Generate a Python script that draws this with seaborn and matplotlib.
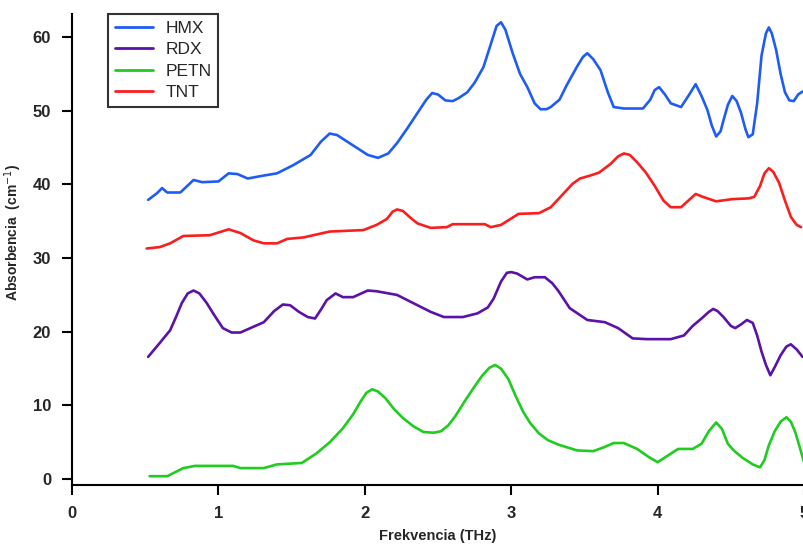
import numpy as np
import pandas as pd
import matplotlib
matplotlib.use("Agg")
import matplotlib.pyplot as plt
import seaborn as sns

series_names = ["HMX", "RDX", "PETN", "TNT"]
colors = ["#1f5cf5", "#5a12a8", "#1fcc1f", "#fb1e1e"]

hmx_x = [0.52, 0.58, 0.615, 0.65, 0.74, 0.83, 0.89, 1.00, 1.07, 1.13, 1.20, 1.31, 1.40, 1.51, 1.63, 1.70,
         1.76, 1.81, 1.88, 1.95, 2.02, 2.09, 2.16, 2.22, 2.29, 2.36, 2.42, 2.46, 2.50, 2.55, 2.60, 2.64,
         2.70, 2.75, 2.81, 2.86, 2.90, 2.93, 2.96, 3.01, 3.06, 3.11, 3.16, 3.20, 3.24, 3.27, 3.33, 3.38,
         3.45, 3.49, 3.52, 3.56, 3.61, 3.66, 3.70, 3.77, 3.90, 3.95, 3.98, 4.01, 4.05, 4.09, 4.16, 4.21,
         4.26, 4.30, 4.34, 4.37, 4.40, 4.43, 4.45, 4.48, 4.51, 4.54, 4.57, 4.60, 4.62, 4.65, 4.68, 4.71,
         4.74, 4.76, 4.78, 4.81, 4.84, 4.87, 4.90, 4.93, 4.96, 4.99]
hmx_y = [37.9, 38.8, 39.5, 38.9, 38.9, 40.6, 40.3, 40.4, 41.5, 41.4, 40.8, 41.2, 41.5, 42.6, 44.0, 45.8,
         46.9, 46.7, 45.8, 44.9, 44.0, 43.6, 44.2, 45.6, 47.6, 49.7, 51.5, 52.4, 52.2, 51.4, 51.3, 51.7,
         52.5, 53.8, 55.9, 59.0, 61.5, 62.0, 61.0, 57.8, 55.0, 53.2, 51.0, 50.2, 50.2, 50.5, 51.5, 53.5,
         56.0, 57.3, 57.8, 57.0, 55.5, 52.5, 50.5, 50.3, 50.3, 51.5, 52.8, 53.2, 52.2, 51.0, 50.5, 52.0,
         53.6, 52.0, 50.1, 48.0, 46.5, 47.2, 48.7, 50.8, 52.0, 51.3, 49.7, 47.5, 46.4, 46.8, 51.0, 57.5,
         60.5, 61.3, 60.5, 58.2, 55.0, 52.5, 51.4, 51.3, 52.2, 52.6]

tnt_x = [0.51, 0.60, 0.67, 0.76, 0.94, 1.07, 1.15, 1.24, 1.31, 1.40, 1.47, 1.58, 1.76, 1.99, 2.08, 2.15,
         2.19, 2.22, 2.26, 2.31, 2.36, 2.45, 2.56, 2.60, 2.72, 2.82, 2.86, 2.93, 3.05, 3.19, 3.27, 3.35,
         3.42, 3.47, 3.54, 3.60, 3.68, 3.73, 3.77, 3.81, 3.86, 3.92, 3.98, 4.04, 4.09, 4.16, 4.21, 4.26,
         4.31, 4.40, 4.51, 4.62, 4.66, 4.70, 4.73, 4.76, 4.79, 4.83, 4.87, 4.91, 4.95, 4.98]
tnt_y = [31.3, 31.5, 32.0, 33.0, 33.1, 33.9, 33.4, 32.4, 32.0, 32.0, 32.6, 32.8, 33.6, 33.8, 34.5, 35.3,
         36.3, 36.6, 36.4, 35.5, 34.7, 34.1, 34.2, 34.6, 34.6, 34.6, 34.2, 34.5, 36.0, 36.1, 36.9, 38.6,
         40.1, 40.8, 41.2, 41.6, 42.8, 43.8, 44.2, 44.0, 43.0, 41.6, 39.8, 37.8, 36.9, 36.9, 37.8, 38.7,
         38.3, 37.7, 38.0, 38.1, 38.3, 39.8, 41.5, 42.2, 41.7, 40.2, 37.8, 35.6, 34.5, 34.2]

rdx_x = [0.52, 0.60, 0.67, 0.71, 0.75, 0.79, 0.83, 0.87, 0.92, 0.97, 1.03, 1.09, 1.15, 1.31, 1.38, 1.44,
         1.49, 1.55, 1.61, 1.66, 1.70, 1.74, 1.80, 1.85, 1.92, 2.02, 2.08, 2.22, 2.33, 2.45, 2.54, 2.67,
         2.77, 2.84, 2.88, 2.93, 2.97, 3.00, 3.04, 3.11, 3.16, 3.23, 3.28, 3.32, 3.40, 3.52, 3.64, 3.73,
         3.83, 3.93, 4.09, 4.18, 4.24, 4.30, 4.35, 4.38, 4.41, 4.45, 4.50, 4.53, 4.57, 4.61, 4.65, 4.68,
         4.71, 4.74, 4.77, 4.80, 4.84, 4.88, 4.91, 4.95, 4.99]
rdx_y = [16.6, 18.5, 20.2, 22.0, 23.9, 25.2, 25.6, 25.2, 23.9, 22.3, 20.5, 19.9, 19.9, 21.3, 22.8, 23.7,
         23.6, 22.7, 22.0, 21.8, 23.0, 24.3, 25.2, 24.7, 24.7, 25.6, 25.5, 25.0, 23.9, 22.7, 22.0, 22.0,
         22.5, 23.3, 24.5, 26.8, 28.0, 28.1, 27.9, 27.1, 27.4, 27.4, 26.6, 25.6, 23.2, 21.6, 21.3, 20.5,
         19.1, 19.0, 19.0, 19.5, 20.8, 21.8, 22.7, 23.1, 22.8, 22.0, 20.8, 20.5, 21.0, 21.6, 21.2, 19.5,
         17.3, 15.5, 14.1, 15.2, 16.8, 18.0, 18.3, 17.6, 16.6]

petn_x = [0.53, 0.65, 0.76, 0.84, 1.10, 1.15, 1.31, 1.40, 1.57, 1.67, 1.76, 1.85, 1.92, 1.97, 2.01, 2.05,
          2.09, 2.14, 2.20, 2.26, 2.33, 2.40, 2.47, 2.52, 2.57, 2.62, 2.68, 2.74, 2.80, 2.85, 2.89, 2.93,
          2.98, 3.03, 3.08, 3.13, 3.19, 3.25, 3.32, 3.45, 3.56, 3.63, 3.70, 3.77, 3.86, 3.94, 4.00, 4.07,
          4.14, 4.24, 4.30, 4.35, 4.40, 4.44, 4.48, 4.52, 4.58, 4.65, 4.70, 4.73, 4.76, 4.80, 4.84, 4.88,
          4.91, 4.94, 4.97, 5.00]
petn_y = [0.4, 0.4, 1.5, 1.8, 1.8, 1.5, 1.5, 2.0, 2.2, 3.5, 5.0, 6.9, 8.8, 10.5, 11.7, 12.2,
          11.9, 11.0, 9.5, 8.3, 7.2, 6.4, 6.3, 6.5, 7.3, 8.6, 10.5, 12.3, 14.0, 15.1, 15.5, 15.0,
          13.6, 11.3, 9.2, 7.6, 6.2, 5.3, 4.7, 3.9, 3.8, 4.3, 4.9, 4.9, 4.1, 3.0, 2.3, 3.2,
          4.1, 4.1, 4.8, 6.5, 7.7, 6.8, 4.8, 3.9, 2.9, 2.0, 1.6, 2.6, 4.6, 6.5, 7.8, 8.4,
          7.8, 6.4, 4.4, 2.3]

x_ticks = [0, 1, 2, 3, 4, 5]
y_ticks = [0, 10, 20, 30, 40, 50, 60]

frames = []
for name, xs, ys in [("HMX", hmx_x, hmx_y), ("RDX", rdx_x, rdx_y),
                     ("PETN", petn_x, petn_y), ("TNT", tnt_x, tnt_y)]:
    frames.append(pd.DataFrame({"x": xs, "y": ys, "series": name}))
df = pd.concat(frames, ignore_index=True)

sns.set_style("ticks")
plt.rcParams["font.family"] = ["Liberation Sans", "DejaVu Sans"]

fig = plt.figure(figsize=(8.04, 5.45), dpi=100)
ax = fig.add_axes([0.0896, 0.110, 0.9104, 0.864])

sns.lineplot(data=df, x="x", y="y", hue="series", hue_order=series_names,
             palette=dict(zip(series_names, colors)), estimator=None, sort=True,
             linewidth=1.9, ax=ax)

ax.set_xlim(0, 5.0)
ax.set_ylim(-0.8, 63.1)
ax.set_xticks(x_ticks)
ax.set_yticks(y_ticks)
ax.set_xticklabels([str(t) for t in x_ticks], fontsize=12, fontweight="bold")
ax.set_yticklabels([str(t) for t in y_ticks], fontsize=12, fontweight="bold")
ax.tick_params(axis="both", direction="out", length=7, width=1.5, color="black", pad=8)

for s in ["top", "right"]:
    ax.spines[s].set_visible(False)
for s in ["left", "bottom"]:
    ax.spines[s].set_linewidth(1.5)
    ax.spines[s].set_color("black")

ax.set_xlabel("Frekvencia (THz)", fontsize=10.5, fontweight="bold", labelpad=6)
ax.set_ylabel("Absorbencia  (cm$^{-1}$)", fontsize=10, fontweight="bold")
ax.yaxis.set_label_coords(-0.066, 0.537)

leg = ax.legend(loc="upper left", bbox_to_anchor=(0.049, 1.0), frameon=True, fancybox=False,
                fontsize=12.5, handlelength=2.2, handletextpad=0.7, borderpad=0.4,
                labelspacing=0.35, borderaxespad=0)
leg.get_frame().set_edgecolor("black")
leg.get_frame().set_linewidth(1.5)
for line in leg.get_lines():
    line.set_linewidth(2)

fig.savefig("out.png", dpi=100)
